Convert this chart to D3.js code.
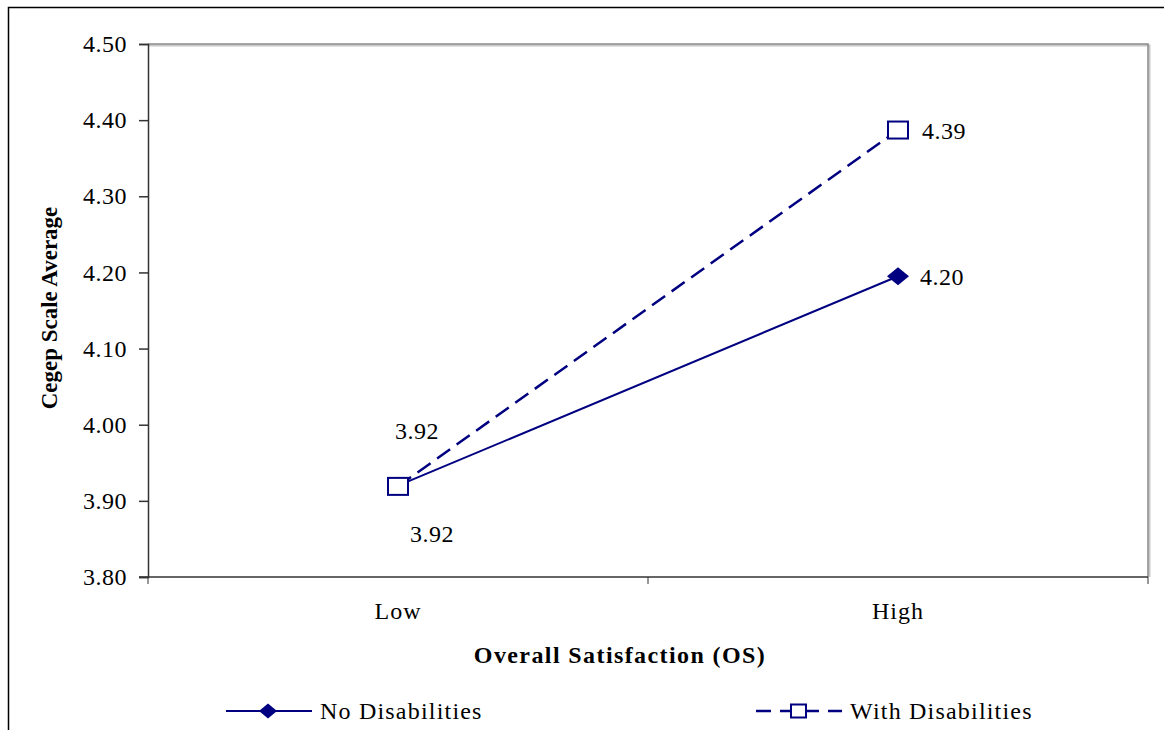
<!DOCTYPE html>
<html>
<head>
<meta charset="utf-8">
<script src="https://cdn.jsdelivr.net/npm/d3@7"></script>
<style>
  body { margin: 0; background: #fff; }
  text { font-family: 'Liberation Serif', 'Times New Roman', serif; fill: #000; }
</style>
</head>
<body>
<svg id="chart" width="1164" height="730"></svg>
<script>
const categories = ['Low', 'High'];
const noDisabilities = [3.92, 4.195];
const withDisabilities = [3.919, 4.387];
const noLabels = ['3.92', '4.20'];
const withLabels = ['3.92', '4.39'];
const yTicks = [3.8, 3.9, 4.0, 4.1, 4.2, 4.3, 4.4, 4.5];
const seriesNames = ['No Disabilities', 'With Disabilities'];

const navy = '#000080';
const svg = d3.select('#chart');

// outer chart frame (runs off the page on right and bottom)
svg.append('rect')
    .attr('x', 8.5).attr('y', 7.5)
    .attr('width', 1200).attr('height', 800)
    .attr('fill', 'none').attr('stroke', '#000').attr('stroke-width', 1.5);

const plot = { left: 148, top: 44, right: 1148, bottom: 577 };

const x = d3.scaleBand().domain(categories).range([plot.left, plot.right]);
const y = d3.scaleLinear().domain([3.8, 4.5]).range([plot.bottom, plot.top]);
const cx = d => x(d) + x.bandwidth() / 2;

// plot area border: gray top/right with shadow
const g = svg.append('g');
g.append('path')
    .attr('d', `M${plot.left},${plot.top + 1.5}H${plot.right + 1.5}V${plot.bottom}`)
    .attr('fill', 'none').attr('stroke', '#c8c8c8').attr('stroke-width', 2);
g.append('path')
    .attr('d', `M${plot.left},${plot.top}H${plot.right}V${plot.bottom}`)
    .attr('fill', 'none').attr('stroke', '#8a8a8a').attr('stroke-width', 1.5);

// y axis
const yAxis = g.append('g')
    .attr('transform', `translate(${plot.left},0)`)
    .call(d3.axisLeft(y).tickValues(yTicks).tickFormat(d3.format('.2f')).tickSize(9).tickPadding(12));
yAxis.select('.domain').attr('stroke', '#333').attr('stroke-width', 1.5);
yAxis.selectAll('.tick line').attr('stroke', '#333').attr('stroke-width', 1.5);
yAxis.selectAll('text')
    .attr('font-size', 24).attr('letter-spacing', '0.5px')
    .attr('fill', '#000');

// x axis
const xAxis = g.append('g')
    .attr('transform', `translate(0,${plot.bottom})`);
xAxis.append('line')
    .attr('x1', plot.left - 9).attr('x2', plot.right)
    .attr('stroke', '#333').attr('stroke-width', 1.5);
const bounds = [plot.left, ...categories.slice(1).map(c => x(c)), plot.right];
xAxis.selectAll('.xtick')
    .data(bounds)
    .enter()
    .append('line')
    .attr('x1', d => d).attr('x2', d => d)
    .attr('y1', 0).attr('y2', 7)
    .attr('stroke', '#333').attr('stroke-width', 1);
xAxis.selectAll('.xlabel')
    .data(categories)
    .enter()
    .append('text')
    .attr('x', d => cx(d))
    .attr('y', 42)
    .attr('text-anchor', 'middle')
    .attr('font-size', 24).attr('letter-spacing', '1px')
    .text(d => d);

// axis titles
svg.append('text')
    .attr('x', 620).attr('y', 663)
    .attr('text-anchor', 'middle')
    .attr('font-size', 24).attr('font-weight', 'bold').attr('letter-spacing', '1.4px')
    .text('Overall Satisfaction (OS)');
svg.append('text')
    .attr('transform', 'translate(57,308) rotate(-90)')
    .attr('text-anchor', 'middle')
    .attr('font-size', 23).attr('font-weight', 'bold')
    .text('Cegep Scale Average');

// lines
const line = d3.line().x((d, i) => cx(categories[i])).y(d => y(d));
g.append('path')
    .datum(noDisabilities)
    .attr('d', line)
    .attr('fill', 'none').attr('stroke', navy).attr('stroke-width', 2);
g.append('path')
    .datum(withDisabilities)
    .attr('d', line)
    .attr('fill', 'none').attr('stroke', navy).attr('stroke-width', 2.5)
    .attr('stroke-dasharray', '16,8');

// markers
const diamondPath = (w, h) => `M${-w / 2},0L0,${-h / 2}L${w / 2},0L0,${h / 2}Z`;
g.selectAll('.m-no')
    .data(noDisabilities)
    .enter()
    .append('path')
    .attr('d', diamondPath(22, 18))
    .attr('transform', (d, i) => `translate(${cx(categories[i])},${y(d)})`)
    .attr('fill', navy);
g.selectAll('.m-with')
    .data(withDisabilities)
    .enter()
    .append('rect')
    .attr('x', (d, i) => cx(categories[i]) - 10)
    .attr('y', d => y(d) - 8.5)
    .attr('width', 20).attr('height', 17)
    .attr('fill', '#fff').attr('stroke', navy).attr('stroke-width', 2);

// data labels
const noOffsets = [[34, 56], [22, 9]];
const withOffsets = [[19, -47], [24, 9]];
g.selectAll('.l-no')
    .data(noDisabilities)
    .enter()
    .append('text')
    .attr('x', (d, i) => cx(categories[i]) + noOffsets[i][0])
    .attr('y', (d, i) => y(d) + noOffsets[i][1])
    .attr('text-anchor', (d, i) => i === 0 ? 'middle' : 'start')
    .attr('font-size', 24).attr('letter-spacing', '0.5px')
    .text((d, i) => noLabels[i]);
g.selectAll('.l-with')
    .data(withDisabilities)
    .enter()
    .append('text')
    .attr('x', (d, i) => cx(categories[i]) + withOffsets[i][0])
    .attr('y', (d, i) => y(d) + withOffsets[i][1])
    .attr('text-anchor', (d, i) => i === 0 ? 'middle' : 'start')
    .attr('font-size', 24).attr('letter-spacing', '0.5px')
    .text((d, i) => withLabels[i]);

// legend
const legendY = 711;
const legendItems = [
    { name: seriesNames[0], x0: 226, dash: null },
    { name: seriesNames[1], x0: 756, dash: '15,9' }
];
const legend = svg.append('g');
legendItems.forEach((item, i) => {
    const lg = legend.append('g').attr('transform', `translate(${item.x0},${legendY})`);
    lg.append('line')
        .attr('x1', 0).attr('x2', 86)
        .attr('stroke', navy).attr('stroke-width', i === 0 ? 2 : 2.5)
        .attr('stroke-dasharray', item.dash);
    if (i === 0) {
        lg.append('path')
            .attr('d', diamondPath(18, 15))
            .attr('transform', 'translate(42,0)')
            .attr('fill', navy);
    } else {
        lg.append('rect')
            .attr('x', 42 - 7).attr('y', -6.5)
            .attr('width', 15).attr('height', 13)
            .attr('fill', '#fff').attr('stroke', navy).attr('stroke-width', 2);
    }
    lg.append('text')
        .attr('x', 94)
        .attr('y', 8)
        .attr('font-size', 24).attr('letter-spacing', '1.2px')
        .text(item.name);
});
</script>
</body>
</html>
